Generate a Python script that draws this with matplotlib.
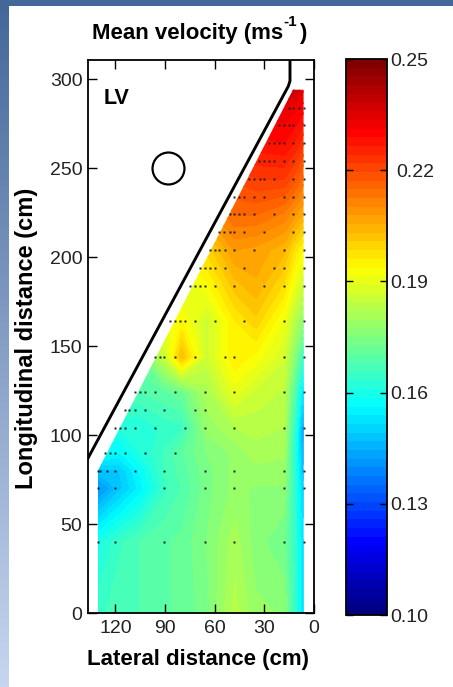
import matplotlib
matplotlib.use('Agg')
import matplotlib.pyplot as plt
from matplotlib.colors import LinearSegmentedColormap
from matplotlib.patches import Polygon, Rectangle
import numpy as np

plt.rcParams['font.family'] = ['Liberation Sans', 'DejaVu Sans']

# lateral / longitudinal positions of the velocity grid (cm)
lateral = [130, 118, 105, 90, 80, 65, 48, 35, 18, 11, 6]
longitudinal = [0, 40, 70, 80, 90, 104, 124, 144, 164, 184, 204, 224, 244, 264, 284, 294]

# mean velocity (m/s), one row per longitudinal position
v_0 = [.165, .167, .168, .170, .171, .174, .183, .178, .177, .163, .150]
v_40 = [.160, .165, .168, .170, .171, .175, .181, .176, .173, .163, .150]
v_70 = [.141, .148, .155, .165, .168, .174, .178, .177, .177, .162, .148]
v_80 = [.148, .149, .157, .166, .169, .174, .178, .179, .179, .161, .145]
v_90 = [.158, .156, .161, .166, .170, .175, .178, .181, .180, .160, .143]
v_104 = [.163, .161, .161, .164, .165, .178, .182, .183, .182, .162, .141]
v_124 = [.168, .168, .168, .170, .172, .181, .190, .186, .184, .167, .150]
v_144 = [.172, .172, .172, .186, .203, .186, .196, .193, .187, .175, .163]
v_164 = [.180, .180, .185, .190, .194, .186, .196, .200, .191, .182, .176]
v_184 = [.185, .185, .188, .188, .188, .193, .202, .205, .198, .190, .185]
v_204 = [.190, .190, .192, .195, .196, .199, .208, .207, .204, .197, .193]
v_224 = [.195, .195, .198, .200, .204, .208, .215, .215, .212, .208, .205]
v_244 = [.200, .200, .205, .208, .210, .212, .220, .222, .222, .218, .214]
v_264 = [.210, .210, .212, .215, .218, .220, .224, .228, .229, .226, .222]
v_284 = [.220, .220, .222, .224, .226, .228, .230, .232, .233, .232, .230]
v_294 = [.225, .225, .226, .228, .230, .232, .234, .238, .240, .238, .234]
velocity = [v_0, v_40, v_70, v_80, v_90, v_104, v_124, v_144, v_164, v_184,
            v_204, v_224, v_244, v_264, v_284, v_294]

# measurement points
dot_rows = [40, 70, 80, 90, 104, 114, 124, 144, 164, 184, 194, 204, 214, 224,
            234, 244, 254, 264, 274, 284]
dot_cols = [
    [130.7, 120, 90.5, 65.7, 48.3, 18, 6.3],
    [130.7, 120, 90.5, 65.7, 48.3, 18, 6.3],
    [130.7, 129, 125, 120, 108, 90.5, 65.7, 48.3, 18, 6.3],
    [126, 123.5, 120, 114, 102, 84],
    [120, 117, 114, 108, 96, 78, 65.7, 48.3, 18, 6.3],
    [114, 111.5, 108, 102, 90.5, 72, 65.7],
    [108, 105, 102, 96, 84, 65.7, 48.3, 18, 6.3],
    [96, 93, 90.5, 84, 72, 54, 48.3, 18, 6.3],
    [87, 84, 81, 78, 72, 60, 42, 18, 6.3],
    [75, 72, 69, 65.7, 60, 48.3, 30, 18, 6.3],
    [69, 65.7, 63, 60, 54, 42, 24.4, 18, 6.3],
    [63, 60, 57.4, 54, 48.3, 36.4, 18, 6.3],
    [57.4, 54.5, 51, 48.3, 42, 30, 12.5, 6.3],
    [51, 48.3, 45, 42, 36.4, 24.4, 12.5, 6.3],
    [48.3, 45, 42, 36.4, 30, 18, 12.5, 6.3],
    [39, 36.4, 32.5, 30, 24.4, 12.5, 6.3],
    [33, 30, 27, 24.4, 18, 12.5, 6.3],
    [27, 24.4, 21, 18, 12.5, 6.3],
    [21, 18, 15, 12.5, 6.3],
    [15, 12.5, 9, 6.3],
]

x_ticks = [0, 30, 60, 90, 120]
y_ticks = [0, 50, 100, 150, 200, 250, 300]
cbar_ticks = [0.10, 0.13, 0.16, 0.19, 0.22, 0.25]
cbar_labels = ['0.10', '0.13', '0.16', '0.19', '0.22', '0.25']

W, H = 453, 687
fig = plt.figure(figsize=(W / 100, H / 100), dpi=100)


def px_axes(left, top, right, bottom):
    return fig.add_axes([left / W, 1 - bottom / H, (right - left) / W, (bottom - top) / H])


def px_text(x, y, s, **kw):
    return fig.text(x / W, 1 - y / H, s, **kw)


# matlab style jet, matplotlib's own has slightly different stops
jet64 = LinearSegmentedColormap.from_list(
    'jet64',
    [(0, (0, 0, .5)), (.125, (0, 0, 1)), (.375, (0, 1, 1)), (.625, (1, 1, 0)),
     (.875, (1, 0, 0)), (1, (.5, 0, 0))], N=64)

# blue slide background behind the white panel
bg = fig.add_axes([0, 0, 1, 1])
grad = LinearSegmentedColormap.from_list('slide', ['#44679a', '#c6d6f0'])
bg.imshow(np.linspace(0, 1, 256)[:, None], aspect='auto', cmap=grad, extent=[0, W, H, 0])
bg.add_patch(Rectangle((9, 6), W - 9, H - 6, color='white', lw=0))
bg.add_patch(Rectangle((0, 0), W, 6, color='#44679a', lw=0))
bg.set_xlim(0, W)
bg.set_ylim(H, 0)
bg.axis('off')

ax = px_axes(88, 60, 314, 613)
levels = np.linspace(0.10, 0.25, 65)
cs = ax.contourf(lateral, longitudinal, np.array(velocity), levels=levels, cmap=jet64,
                 vmin=0.10, vmax=0.25)
region = Polygon([(130.5, 0), (6.3, 0), (6.3, 294), (12.7, 294), (130.5, 80)],
                 transform=ax.transData, fc='none', ec='none')
ax.add_patch(region)
cs.set_clip_path(region)

for row, cols in zip(dot_rows, dot_cols):
    ax.plot(cols, [row] * len(cols), ls='none', marker='s', ms=1.5, mfc='#222222', mec='none')

# septal wall outline
ax.plot([136.5, 15.5, 14.5, 14.5], [87, 296, 299, 311], color='black', lw=2.1)
ax.plot([88], [250], marker='o', ms=23, mfc='none', mec='black', mew=1.6, ls='none')
ax.text(127, 289, 'LV', fontsize=15.5, fontweight='bold', ha='left', va='center')

ax.set_xlim(136.5, 0)
ax.set_ylim(0, 310.7)
ax.set_xticks(x_ticks)
ax.set_yticks(y_ticks)
ax.tick_params(direction='in', top=True, right=True, length=6.5, width=1, labelsize=14,
               labelcolor='#222222', pad=5)
ax.tick_params(axis='y', pad=4)
for s in ax.spines.values():
    s.set_linewidth(1.3)

px_text(198, 660, 'Lateral distance (cm)', fontsize=16, fontweight='bold', ha='center', va='center')
px_text(27, 338, 'Longitudinal distance (cm)', fontsize=17, fontweight='bold',
        rotation=90, ha='center', va='center')
px_text(92, 34, 'Mean velocity (ms', fontsize=16, fontweight='bold', ha='left', va='center')
px_text(283, 22, '-1', fontsize=11, fontweight='bold', ha='left', va='center')
px_text(299, 34, ')', fontsize=16, fontweight='bold', ha='left', va='center')

cax = px_axes(346, 59, 387, 615)
cbar = fig.colorbar(cs, cax=cax, ticks=cbar_ticks)
cbar.outline.set_linewidth(1.3)
cax.tick_params(direction='in', left=True, right=True, length=5, width=1, labelsize=14,
                labelcolor='#222222', pad=2.5)
cax.set_yticklabels(cbar_labels)
cax.yaxis.get_major_ticks()[4].set_pad(7)

fig.savefig('out.png', dpi=100)
